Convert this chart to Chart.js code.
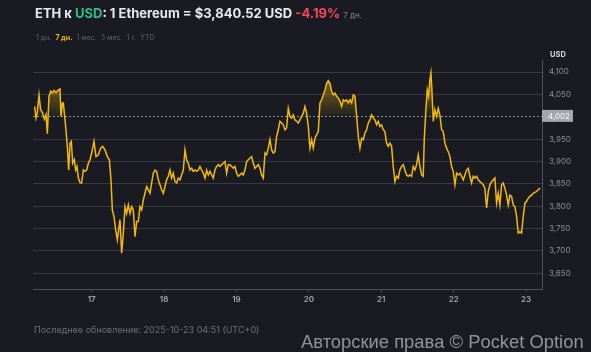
<!DOCTYPE html>
<html>
<head>
<meta charset="utf-8">
<script src="https://cdn.jsdelivr.net/npm/chart.js@4"></script>
<style>
    html, body { margin: 0; padding: 0; background: #1a1b22; }
    body { width: 591px; height: 352px; position: relative; overflow: hidden; font-family: Inter, "Open Sans", sans-serif; }
    #chart-wrap { position: absolute; left: 0; top: 0; width: 591px; height: 352px; }
    .title { position: absolute; left: 35px; top: 5px; font-size: 13px; font-weight: 700; color: #e8e9ec; white-space: nowrap; }
    .title .cur { color: #2ebd85; }
    .title .neg { color: #f6465d; }
    .title .per { font-size: 8px; font-weight: 400; color: #7c808a; }
    .ranges { position: absolute; left: 36px; top: 33px; font-size: 7px; color: #5d616a; white-space: nowrap; }
    .ranges span { margin-right: 4px; }
    .ranges .active { color: #f0b90b; font-weight: 700; }
    .unit { position: absolute; left: 550px; top: 50px; font-size: 7.5px; font-weight: 700; color: #d6d8dc; }
    .updated { position: absolute; left: 34px; top: 324px; font-size: 9px; color: #6c7079; white-space: nowrap; }
    .copyright { position: absolute; left: 301px; top: 331px; font-family: "Liberation Sans", Arial, sans-serif; font-size: 18.4px; color: rgba(190,192,196,0.72); white-space: nowrap; }
</style>
</head>
<body>
<div id="chart-wrap"><canvas id="ethChart" width="591" height="352"></canvas></div>
<div class="title">ETH к <span class="cur">USD</span>: 1 Ethereum = $3,840.52 USD <span class="neg">-4.19%</span> <span class="per">7 дн.</span></div>
<div class="ranges"><span>1 дн.</span><span class="active">7 дн.</span><span>1 мес.</span><span>3 мес.</span><span>1 г.</span><span>YTD</span></div>
<div class="unit">USD</div>
<div class="updated">Последнее обновление: 2025-10-23 04:51 (UTC+0)</div>
<div class="copyright">Авторские права © Pocket Option</div>
<script>
// часы от начала 16 октября
const hours = [
    5.09, 5.54, 5.98, 6.53, 7.08, 7.75, 8.30, 8.85, 9.29, 9.85, 10.40, 10.95, 11.50, 12.17, 12.94, 13.49,
    13.82, 14.27, 14.60, 14.93, 15.37, 15.92, 16.37, 16.81, 17.25, 17.69, 18.24, 18.69, 19.13, 19.57, 20.12,
    20.67, 21.23, 21.78, 22.33, 22.88, 23.44, 23.99, 24.76, 25.43, 26.20, 26.97, 27.64, 28.41, 29.18, 29.85,
    30.40, 30.84, 31.39, 31.95, 32.50,
    33.38, 33.93, 34.49, 35.04, 35.59, 36.14, 36.70, 37.25, 37.80, 38.35, 38.91, 39.46, 40.01, 40.56, 41.12,
    41.67, 42.22, 42.77, 43.33, 43.88, 44.43, 44.98, 45.54, 46.09, 46.64, 47.19, 47.75, 48.30, 48.85, 49.40,
    49.96, 50.51, 51.06, 51.61, 52.17, 52.72, 53.27, 53.82, 54.38, 54.93, 55.48, 56.03, 56.59, 57.14, 57.69,
    58.24, 58.80, 59.35, 59.90, 60.45, 61.01,
    61.56, 62.11, 62.66, 63.21, 63.77, 64.32, 64.87, 65.42, 65.98, 66.53, 67.08, 67.63, 68.19, 68.74, 69.29,
    69.84, 70.40, 70.95, 71.50, 72.05, 72.61, 73.16, 73.71, 74.26, 74.82, 75.37, 75.92, 76.47, 77.03, 77.58,
    78.13, 78.68, 79.24, 79.79, 80.34, 80.89, 81.45, 82.00, 82.55, 83.10, 83.66, 84.21, 84.76, 85.31, 85.87,
    86.42, 86.97, 87.52, 88.08, 88.63, 89.18,
    89.74, 90.29, 90.84, 91.39, 91.95, 92.50, 93.05, 93.60, 94.16, 94.71, 95.26, 95.81, 96.37, 96.92, 97.47,
    98.02, 98.58, 99.13, 99.68, 100.23, 100.79, 101.34, 101.89, 102.44, 103.00, 103.55, 104.10, 104.65, 105.21,
    105.76, 106.31, 106.86, 107.42, 107.97, 108.52, 109.07, 109.63, 110.18, 110.73, 111.28, 111.84, 112.39,
    112.94, 113.49, 114.05, 114.60, 115.15, 115.70, 116.26, 116.81, 117.36,
    117.91, 118.46, 119.01, 119.56, 120.12, 120.67, 121.22, 121.77, 122.33, 122.88, 123.43, 123.98, 124.54,
    125.09, 125.64, 126.19, 126.75, 127.30, 127.85, 128.40, 128.96, 129.51, 130.06, 130.61, 131.17, 131.72,
    132.27, 132.82, 133.38, 133.93, 134.26, 134.81, 135.26, 135.70, 136.14, 136.47, 136.80, 137.24, 137.80,
    138.35, 138.90, 139.45, 140.01, 140.56, 141.11, 141.66, 142.22, 142.77, 143.32, 143.87, 144.43, 144.98, 145.53,
    146.09, 146.64, 147.19, 147.74, 148.30, 148.85, 149.40, 149.95, 150.51, 151.06, 151.61, 152.16, 152.72,
    153.27, 153.82, 154.37, 154.93, 155.48, 156.03, 156.58, 157.14, 157.69, 158.24, 158.79, 159.35, 159.90,
    160.45, 161.00, 161.56, 162.11, 162.66, 163.21, 163.77, 164.32, 164.87, 165.42, 165.98, 166.53, 167.08,
    167.63, 168.19, 168.74, 169.29, 169.84, 170.40, 170.95, 171.50, 172.05, 172.72
];

const prices = [
    4023, 3997, 4010, 4049, 4016, 4008, 3995, 4005, 3962, 4046, 4057, 4053, 4059, 4054, 4060, 4062,
    4001, 4031, 4031, 4008, 3978, 3934, 3881, 3941, 3945, 3896, 3904, 3881, 3889, 3863, 3853,
    3852, 3881, 3878, 3881, 3896, 3904, 3919, 3945, 3911, 3915, 3930, 3934, 3926, 3911, 3904,
    3859, 3792, 3777, 3747, 3725,
    3770, 3695, 3740, 3799, 3784, 3803, 3784, 3799, 3792, 3732, 3766, 3766, 3799, 3792, 3814,
    3829, 3844, 3837, 3829, 3852, 3874, 3881, 3878, 3859, 3848, 3837, 3829, 3844, 3859, 3867,
    3881, 3863, 3874, 3855, 3852, 3863, 3859, 3870, 3881, 3926, 3904, 3896, 3881, 3885, 3878,
    3881, 3878, 3881, 3889, 3881, 3874,
    3863, 3881, 3870, 3878, 3870, 3863, 3881, 3889, 3893, 3889, 3893, 3896, 3900, 3874, 3893,
    3893, 3889, 3885, 3889, 3874, 3867, 3870, 3874, 3870, 3881, 3900, 3904, 3908, 3911, 3896,
    3885, 3889, 3893, 3885, 3870, 3863, 3919, 3915, 3930, 3949, 3926, 3919, 3922, 3956, 3971,
    3990, 3986, 3982, 3971, 3975, 4019,
    4001, 3997, 4004, 3993, 3990, 3986, 3993, 4001, 4008, 4023, 4008, 3978, 3930, 3949, 3930,
    3952, 3960, 3967, 4031, 4038, 4049, 4060, 4075, 4081, 4075, 4057, 4049, 4053, 4046,
    4042, 4035, 4023, 4038, 4035, 4038, 4031, 4038, 4031, 4049, 4046, 4001, 3956,
    3930, 3952, 3949, 3964, 3971, 3986, 3993, 4004, 3997,
    3993, 3982, 3990, 3978, 3982, 3971, 3967, 3941, 3934, 3941, 3934, 3889, 3855,
    3867, 3863, 3881, 3889, 3893, 3881, 3870, 3867, 3870, 3867, 3889, 3881, 3893,
    3915, 3889, 3870, 3867, 3949, 4016, 4060, 4046, 4083, 4098, 4060, 3990, 4016,
    4001, 4019, 4004, 3971, 3967, 3941, 3930, 3922, 3911, 3889, 3878, 3848, 3874, 3870,
    3874, 3867, 3859, 3870, 3881, 3885, 3867, 3852, 3867, 3863, 3867, 3859, 3855,
    3852, 3848, 3840, 3796, 3833, 3848, 3855, 3859, 3863, 3807, 3829, 3803, 3848,
    3852, 3840, 3825, 3803, 3825, 3822, 3803, 3799, 3777, 3740, 3743, 3740, 3777,
    3807, 3811, 3818, 3822, 3825, 3829, 3831, 3833, 3837, 3840.52
];

const dayTicks = [24, 48, 72, 96, 120, 144, 168];
const dayLabels = ['17', '18', '19', '20', '21', '22', '23'];
const priceTicks = [3650, 3700, 3750, 3800, 3850, 3900, 3950, 4050, 4100];
const openPrice = 4002;

// пунктир уровня открытия и плашка справа
const openLinePlugin = {
    id: 'openLine',
    beforeDatasetsDraw(chart) {
        const { ctx, chartArea, scales } = chart;
        const y = Math.round(scales.y.getPixelForValue(openPrice)) + 0.5;
        ctx.save();
        ctx.strokeStyle = '#8d9199';
        ctx.lineWidth = 1;
        ctx.setLineDash([2, 2]);
        ctx.beginPath();
        ctx.moveTo(chartArea.left, y);
        ctx.lineTo(chartArea.right, y);
        ctx.stroke();
        ctx.restore();
    },
    afterDraw(chart) {
        const { ctx, chartArea, scales } = chart;
        const y = scales.y.getPixelForValue(openPrice);
        ctx.save();
        ctx.fillStyle = '#a2a6ae';
        ctx.fillRect(chartArea.right, y - 6, 31, 12);
        ctx.fillStyle = '#f4f5f7';
        ctx.font = '8px Inter, sans-serif';
        ctx.textBaseline = 'middle';
        ctx.fillText('4,002', chartArea.right + 6, y + 0.5);
        ctx.restore();
    }
};

const ctx = document.getElementById('ethChart');
new Chart(ctx, {
    type: 'line',
    data: {
        datasets: [{
            data: hours.map((h, i) => ({ x: h, y: prices[i] })),
            borderColor: '#f0b90b',
            borderWidth: 1.5,
            pointRadius: 0,
            tension: 0,
            fill: {
                target: { value: openPrice },
                above: (c) => {
                    const area = c.chart.chartArea;
                    if (!area) return 'transparent';
                    const ys = c.chart.scales.y;
                    const g = c.chart.ctx.createLinearGradient(0, ys.getPixelForValue(4100), 0, ys.getPixelForValue(openPrice));
                    g.addColorStop(0, 'rgba(240,185,11,0.55)');
                    g.addColorStop(1, 'rgba(240,185,11,0.05)');
                    return g;
                },
                below: 'transparent'
            }
        }]
    },
    options: {
        responsive: false,
        animation: false,
        layout: { padding: { left: 33, top: 60, right: 0, bottom: 43 } },
        plugins: {
            legend: { display: false },
            tooltip: { enabled: false }
        },
        scales: {
            x: {
                type: 'linear',
                min: 4.54,
                max: 173.3,
                afterBuildTicks: (s) => { s.ticks = dayTicks.map(v => ({ value: v })); },
                afterFit: (s) => { s.height = 20; },
                ticks: {
                    autoSkip: false,
                    maxRotation: 0,
                    padding: 3,
                    color: '#a3a7af',
                    font: { size: 8, weight: '600', family: 'Inter, sans-serif' },
                    callback: (v) => dayLabels[dayTicks.indexOf(v)]
                },
                grid: { drawOnChartArea: false, drawTicks: true, tickLength: 3, color: '#50535d' },
                border: { display: true, color: '#50535d' }
            },
            y: {
                position: 'right',
                min: 3615,
                max: 4127,
                afterBuildTicks: (s) => { s.ticks = priceTicks.map(v => ({ value: v })); },
                afterFit: (s) => { s.width = 49; },
                ticks: {
                    padding: 7,
                    color: '#8b8f98',
                    font: { size: 8, family: 'Inter, sans-serif' },
                    callback: (v) => v.toLocaleString('en-US')
                },
                grid: { color: '#363944', drawTicks: false },
                border: { display: true, color: '#50535d' }
            }
        }
    },
    plugins: [openLinePlugin]
});
</script>
</body>
</html>
